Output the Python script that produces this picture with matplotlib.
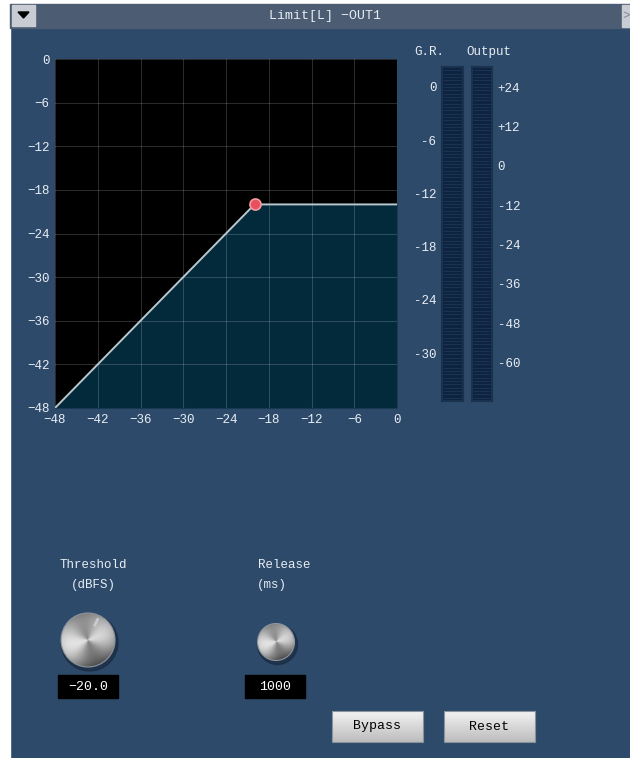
import numpy as np
import matplotlib
matplotlib.use("Agg")
import matplotlib.pyplot as plt
from matplotlib.patches import Rectangle, Circle, Polygon

# transfer curve of the limiter (dB in -> dB out)
threshold = -20.0
curve_in = [-48, threshold, 0]
curve_out = [-48, threshold, threshold]
axis_ticks = [-48, -42, -36, -30, -24, -18, -12, -6, 0]

# meter scales
gr_ticks = [0, -6, -12, -18, -24, -30]
gr_labels = ['0', '-6', '-12', '-18', '-24', '-30']
out_ticks = [24, 12, 0, -12, -24, -36, -48, -60]
out_labels = ['+24', '+12', '0', '-12', '-24', '-36', '-48', '-60']

threshold_text = '-20.0'
release_text = '1000'

BG = '#2d4a6b'
TITLE_BG = '#4b5c73'
FILL = '#032a3b'
METER = '#0d2340'
TXT = '#e8edf2'
FONT = 'Liberation Mono'
FS = 9

W, H = 630, 758
fig = plt.figure(figsize=(W / 100, H / 100), dpi=100)
fig.patch.set_facecolor(BG)

# panel in pixel coordinates
bg = fig.add_axes([0, 0, 1, 1])
bg.set_xlim(0, W)
bg.set_ylim(H, 0)
bg.axis('off')
bg.add_patch(Rectangle((0, 0), W, H, color=BG, zorder=0))
bg.add_patch(Rectangle((0, 0), 10, H, color='white', zorder=1))
bg.add_patch(Rectangle((0, 0), W, 4, color='white', zorder=1))
bg.add_patch(Rectangle((10, 4), W - 10, 24, color=TITLE_BG, zorder=1))
# title bar buttons
bg.add_patch(Rectangle((12, 5), 23, 21, color='#c9cdd3', zorder=2))
bg.add_patch(Polygon([[18, 12], [29, 12], [23.5, 18]], color='black', zorder=3))
bg.add_patch(Rectangle((622, 5), 8, 22, color='#c9cdd3', zorder=2))
bg.text(626, 16, '>', color='#7d8590', fontsize=9, ha='center', va='center',
        family=FONT, zorder=3)
bg.text(325, 16, 'Limit[L] \u2212OUT1', color=TXT, fontsize=FS + 0.5, ha='center',
        va='center', family=FONT)

# meter headers
bg.text(429, 52, 'G.R.', color=TXT, fontsize=FS, ha='center', va='center', family=FONT)
bg.text(489, 52, 'Output', color=TXT, fontsize=FS, ha='center', va='center', family=FONT)

# transfer curve axes
ax = fig.add_axes([55 / W, 1 - 408 / H, 342 / W, 349 / H])
ax.set_facecolor('black')
ax.fill_between(curve_in, curve_out, -48, color=FILL, zorder=1, lw=0)
ax.plot(curve_in, curve_out, color='#b9c8cf', lw=1.4, zorder=3)
ax.plot([threshold], [threshold], 'o', ms=8, mfc='#e8505e', mec='#f59aa2',
        mew=1.2, zorder=4)
ax.set_xlim(-48, 0)
ax.set_ylim(-48, 0)
ax.set_xticks(axis_ticks)
ax.set_yticks(axis_ticks)
ax.set_xticklabels([str(t).replace('-', '\u2212') for t in axis_ticks])
ax.set_yticklabels([str(t).replace('-', '\u2212') for t in axis_ticks])
ax.grid(True, color='white', alpha=0.17, lw=0.8, zorder=2)
ax.set_axisbelow(False)
ax.tick_params(length=0, colors=TXT, labelsize=FS, pad=4)
for lab in ax.get_xticklabels() + ax.get_yticklabels():
    lab.set_family(FONT)
for s in ax.spines.values():
    s.set_visible(False)


def meter(x0, x1, lo, hi, ticks, labels, side):
    m = fig.add_axes([x0 / W, 1 - 401 / H, (x1 - x0) / W, 334 / H])
    m.set_facecolor(METER)
    m.set_ylim(lo, hi)
    m.set_xlim(0, 1)
    m.set_xticks([])
    m.set_yticks(ticks)
    m.set_yticklabels(labels)
    m.hlines(np.linspace(lo, hi, 101), 0.06, 0.94, color='#1c3756', lw=0.6)
    for s in m.spines.values():
        s.set_color('#1b324f')
        s.set_linewidth(1.5)
    m.tick_params(length=0, colors=TXT, labelsize=FS, pad=4,
                  left=(side == 'left'), labelleft=(side == 'left'),
                  right=(side == 'right'), labelright=(side == 'right'))
    for lab in m.get_yticklabels():
        lab.set_family(FONT)
    return m


meter(442, 463, -35.4, 2.25, gr_ticks, gr_labels, 'left')
meter(472, 492, -71.7, 30.1, out_ticks, out_labels, 'right')


def knob(cx, cy, r, notch=None):
    bg.add_patch(Circle((cx + 1.5, cy + 2.5), r + 1.5, color='#1a2c40', alpha=0.7, zorder=2))
    n = 200
    yy, xx = np.mgrid[-1:1:n * 1j, -1:1:n * 1j]
    th = np.arctan2(yy, xx)
    rr = np.hypot(xx, yy)
    v = 0.7 + 0.17 * np.cos(2 * th + 0.6) - 0.08 * (xx + yy) - 0.14 * rr ** 4
    im = bg.imshow(v, cmap='gray', vmin=0, vmax=1, origin='upper',
                   extent=(cx - r, cx + r, cy + r, cy - r), zorder=3, interpolation='bilinear')
    im.set_clip_path(Circle((cx, cy), r, transform=bg.transData))
    bg.add_patch(Circle((cx, cy), r, fill=False, ec='#8e959c', lw=0.8, zorder=4))
    if notch is not None:
        a = np.deg2rad(notch)
        bg.plot([cx + 0.6 * r * np.cos(a), cx + 0.85 * r * np.cos(a)],
                [cy - 0.6 * r * np.sin(a), cy - 0.85 * r * np.sin(a)],
                color='#c8ccd0', lw=2, zorder=5, solid_capstyle='round')


knob(88, 640, 27, notch=65)
knob(276, 642, 18.5)

# knob labels and value boxes
bg.text(93, 565, 'Threshold', color=TXT, fontsize=FS, ha='center', va='center', family=FONT)
bg.text(93, 585, '(dBFS)', color=TXT, fontsize=FS, ha='center', va='center', family=FONT)
bg.text(284, 565, 'Release', color=TXT, fontsize=FS, ha='center', va='center', family=FONT)
bg.text(272, 585, '(ms)', color=TXT, fontsize=FS, ha='center', va='center', family=FONT)

for x0, txt in [(58, threshold_text.replace('-', '\u2212')), (245, release_text)]:
    bg.add_patch(Rectangle((x0, 675), 60, 23, color='black', zorder=2))
    bg.text(x0 + 30, 687, txt, color='white', fontsize=FS + 0.5, ha='center', va='center',
            family=FONT, zorder=3)

# buttons
grad = np.linspace(0.95, 0.74, 50).reshape(-1, 1)
for x0, txt in [(332, 'Bypass'), (444, 'Reset')]:
    bg.imshow(grad, cmap='gray', vmin=0, vmax=1, origin='upper', aspect='auto',
              extent=(x0, x0 + 91, 742, 711), zorder=2)
    bg.add_patch(Rectangle((x0, 711), 91, 31, fill=False, ec='#8a939c', lw=0.8, zorder=3))
    bg.text(x0 + 45.5, 726.5, txt, color='black', fontsize=FS + 0.5, ha='center', va='center',
            family=FONT, zorder=4)

bg.set_xlim(0, W)
bg.set_ylim(H, 0)
bg.set_aspect('auto')

fig.savefig('out.png', dpi=100, facecolor=BG)
